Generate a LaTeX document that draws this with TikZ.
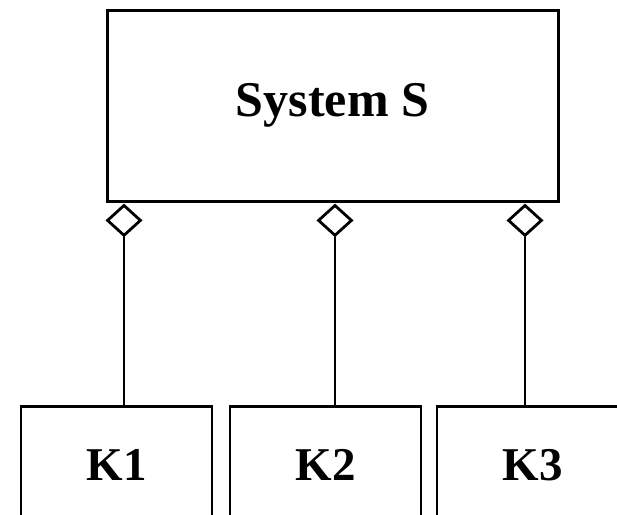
\documentclass[tikz,border=0pt]{standalone}
\usepackage{fontspec}
\setmainfont{Liberation Serif}
\usetikzlibrary{shapes.geometric}
\begin{document}
\begin{tikzpicture}[x=1pt,y=-1pt,
  sysbox/.style={draw, line width=3pt, minimum width=451pt, minimum height=191pt, inner sep=0pt,
    font=\fontsize{50}{52}\selectfont\bfseries},
  kbox/.style={draw, line width=2.5pt, minimum width=191pt, minimum height=128pt, inner sep=0pt, anchor=north,
    font=\fontsize{47}{50}\selectfont\bfseries},
  agg/.style={diamond, draw, line width=2.8pt, fill=white, minimum width=34pt, minimum height=31pt, inner sep=0pt, anchor=north},
  conn/.style={line width=2.5pt}]
\useasboundingbox (0,0) rectangle (617,514);
\clip (0,0) rectangle (617,514);
\node[sysbox] (sys) at (332.5,105.5) {\raisebox{-1pt}{System S}};
\node[agg] (d1) at (124,203.5) {};
\node[agg] (d2) at (335,203.5) {};
\node[agg] (d3) at (525,203.5) {};
\node[kbox] (k1) at (116.5,405) {\raisebox{10pt}{K1}};
\node[kbox] (k2) at (325.5,405) {\raisebox{10pt}{K2}};
\node[kbox] (k3) at (532.5,405) {\raisebox{10pt}{K3}};
\draw[conn] (d1.south) -- (d1.south |- k1.north);
\draw[conn] (d2.south) -- (d2.south |- k2.north);
\draw[conn] (d3.south) -- (d3.south |- k3.north);
\end{tikzpicture}
\end{document}
